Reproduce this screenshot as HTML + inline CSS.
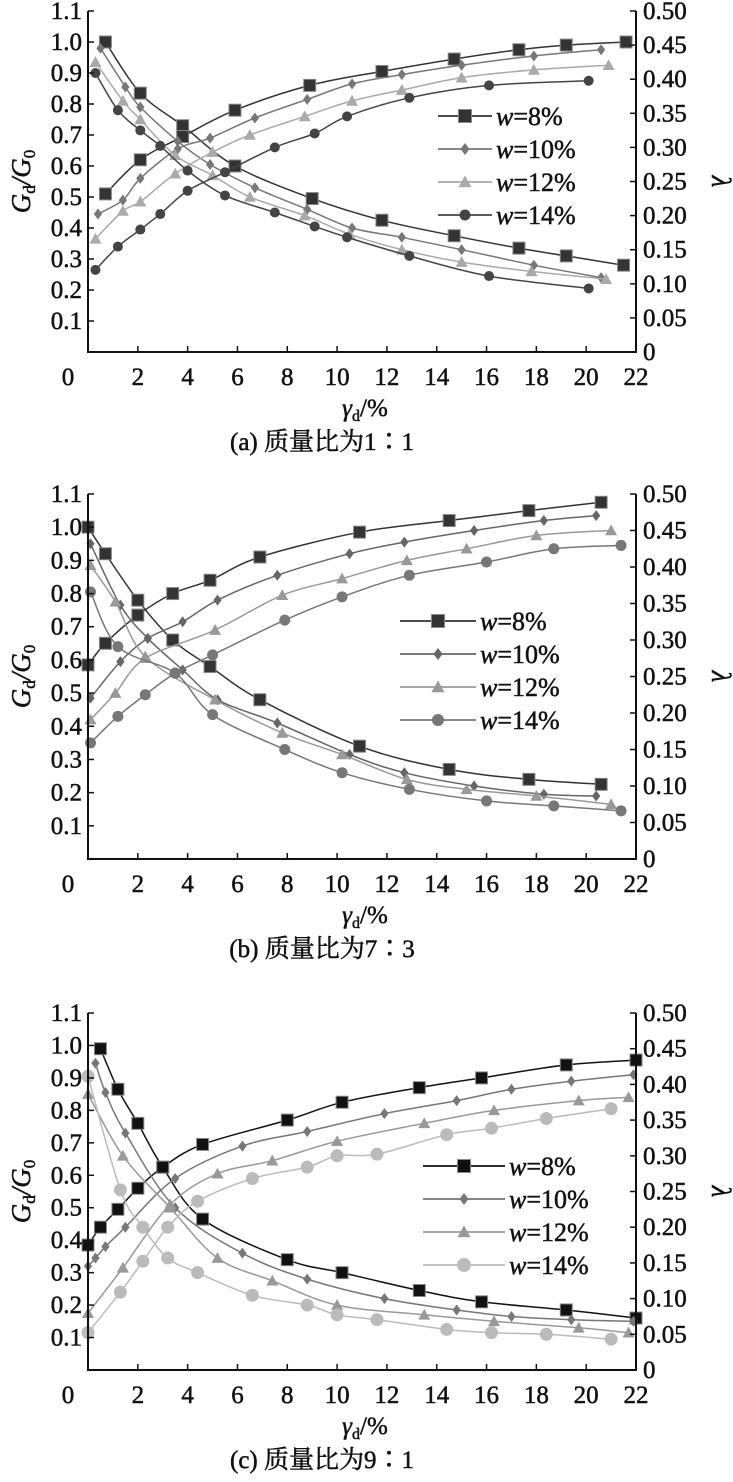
<!DOCTYPE html>
<html><head><meta charset="utf-8"><style>
html,body{margin:0;padding:0;background:#fff;}
svg{display:block;}
text{font-family:"Liberation Serif","Noto Serif CJK SC",serif;fill:#111;stroke:#111;stroke-width:0.5;}
</style></head><body>
<svg id="s" width="733" height="1482" xmlns="http://www.w3.org/2000/svg"></svg>
<script>
const S=document.getElementById('s');let h='';
const X0=88,X1=636,xs=g=>X0+g*(X1-X0)/22;
function curve(pts){if(pts.length<2)return '';let d='M'+pts[0][0]+','+pts[0][1];
for(let i=0;i<pts.length-1;i++){const p0=pts[i-1]||pts[i],p1=pts[i],p2=pts[i+1],p3=pts[i+2]||p2;
const c1=[p1[0]+(p2[0]-p0[0])/6,p1[1]+(p2[1]-p0[1])/6],c2=[p2[0]-(p3[0]-p1[0])/6,p2[1]-(p3[1]-p1[1])/6];
d+=` C${c1[0].toFixed(1)},${c1[1].toFixed(1)} ${c2[0].toFixed(1)},${c2[1].toFixed(1)} ${p2[0].toFixed(1)},${p2[1].toFixed(1)}`;}return d;}
function mk(t,x,y,c,sz){const r=sz/2;
if(t=='s')return `<rect x="${x-r}" y="${y-r}" width="${sz}" height="${sz}" fill="${c}" stroke="#888" stroke-width="1"/>`;
if(t=='d')return `<polygon points="${x},${y-r} ${x+r*0.75},${y} ${x},${y+r} ${x-r*0.75},${y}" fill="${c}"/>`;
if(t=='t')return `<polygon points="${x},${y-r} ${x+r},${y+r*0.8} ${x-r},${y+r*0.8}" fill="${c}"/>`;
return `<circle cx="${x}" cy="${y}" r="${r}" fill="${c}"/>`;}
function panel(P){const yT=P.top,yB=P.bot,ys=v=>yB-v*(yB-yT)/1.1;
P.ser.forEach(s=>{[s.dec,s.inc].forEach(arr=>{const pts=arr[0].map((g,i)=>[xs(g),ys(arr[1][i])]);
h+=`<path d="${curve(pts)}" fill="none" stroke="${s.c}" stroke-width="1.5"/>`;
pts.forEach(p=>h+=mk(s.m,p[0],p[1],s.c,s.sz));});});
h+=`<path d="M${X0},${yT} V${yB} H${X1} V${yT}" fill="none" stroke="#111" stroke-width="2"/>`;
for(let i=1;i<=11;i++){const y=ys(i/10);h+=`<line x1="${X0}" y1="${y}" x2="${X0+6}" y2="${y}" stroke="#111" stroke-width="1.5"/>`;
h+=`<text x="${X0-6}" y="${y+8}" font-size="25" text-anchor="end">${(i/10).toFixed(1)}</text>`;}
for(let k=1;k<=10;k++){const y=yB-k*(yB-yT)/10;h+=`<line x1="${X1}" y1="${y}" x2="${X1-6}" y2="${y}" stroke="#111" stroke-width="1.5"/>`;
h+=`<text x="${X1+7}" y="${y+8}" font-size="25">${(k*0.05).toFixed(2)}</text>`;}
h+=`<text x="${X1+7}" y="${yB+8}" font-size="25">0</text>`;
for(let g=2;g<=22;g+=2){const x=xs(g);h+=`<line x1="${x}" y1="${yB}" x2="${x}" y2="${yB-6}" stroke="#111" stroke-width="1.5"/>`;
h+=`<text x="${x}" y="${yB+33}" font-size="25" text-anchor="middle">${g}</text>`;}
h+=`<text x="68" y="${yB+33}" font-size="25" text-anchor="middle">0</text>`;
const ym=(yT+yB)/2;
h+=`<text transform="translate(30,${ym}) rotate(-90)" font-size="27" text-anchor="middle" font-style="italic">G<tspan font-size="17" dy="5" font-style="normal">d</tspan><tspan dy="-5">/G</tspan><tspan font-size="17" dy="5" font-style="normal">0</tspan></text>`;
h+=`<text transform="translate(712,${ym}) rotate(90)" font-size="27" text-anchor="middle" font-style="italic">λ</text>`;
h+=`<text x="365" y="${yB+64}" font-size="25" text-anchor="middle" font-style="italic">γ<tspan font-size="16" dy="5" font-style="normal">d</tspan><tspan dy="-5" font-style="normal">/%</tspan></text>`;
h+=`<text x="322" y="${yB+98}" font-size="25" text-anchor="middle">${P.cap}</text>`;
P.ser.forEach((s,i)=>{const y=P.leg.y+i*P.leg.dy;h+=`<line x1="${P.leg.x1}" y1="${y}" x2="${P.leg.x2}" y2="${y}" stroke="${s.c}" stroke-width="1.8"/>`;
h+=mk(s.m,(P.leg.x1+P.leg.x2)/2,y,s.c,s.sz+1);
h+=`<text x="${P.leg.x2+4}" y="${y+9}" font-size="26"><tspan font-style="italic">w</tspan>=${s.lab}</text>`;});}
panel({top:11,bot:352,cap:"(a) 质量比为1∶1",leg:{x1:438,x2:492,y:116,dy:33},ser:[
{c:"#333",m:"s",sz:12,lab:"8%",dec:[[0.7,2.1,3.8,5.9,9.0,11.8,14.7,17.3,19.2,21.5],[1.0,0.835,0.73,0.6,0.495,0.425,0.375,0.335,0.31,0.28]],inc:[[0.7,2.1,3.8,5.9,8.9,11.8,14.7,17.3,19.2,21.6],[0.51,0.62,0.695,0.78,0.86,0.905,0.945,0.975,0.99,1.0]]},
{c:"#777",m:"d",sz:11,lab:"10%",dec:[[0.5,1.5,2.1,3.6,4.9,6.7,8.8,10.6,12.6,15.0,17.9,20.6],[0.98,0.855,0.79,0.68,0.605,0.53,0.46,0.4,0.37,0.33,0.28,0.24]],inc:[[0.4,1.4,2.1,3.6,4.9,6.7,8.8,10.6,12.6,15.0,17.9,20.6],[0.445,0.49,0.56,0.655,0.69,0.755,0.815,0.865,0.895,0.925,0.955,0.975]]},
{c:"#aaa",m:"t",sz:12,lab:"12%",dec:[[0.3,1.4,2.1,3.5,5.0,6.5,8.7,10.5,12.6,15.0,17.8,20.8],[0.935,0.81,0.75,0.635,0.57,0.5,0.44,0.38,0.33,0.29,0.26,0.235]],inc:[[0.3,1.4,2.1,3.5,5.0,6.5,8.7,10.6,12.6,15.0,17.9,20.9],[0.365,0.455,0.485,0.575,0.645,0.7,0.76,0.81,0.845,0.885,0.91,0.925]]},
{c:"#444",m:"c",sz:10,lab:"14%",dec:[[0.3,1.2,2.1,2.9,4.0,5.5,7.5,9.1,10.4,12.9,16.1,20.1],[0.9,0.78,0.715,0.665,0.585,0.505,0.45,0.405,0.37,0.31,0.245,0.205]],inc:[[0.3,1.2,2.1,2.9,4.0,5.5,7.5,9.1,10.4,12.9,16.1,20.1],[0.265,0.34,0.395,0.445,0.52,0.58,0.66,0.705,0.76,0.82,0.86,0.875]]}]});
panel({top:494,bot:859,cap:"(b) 质量比为7∶3",leg:{x1:400,x2:476,y:621,dy:33},ser:[
{c:"#333",m:"s",sz:12,lab:"8%",dec:[[0,0.7,2,3.4,4.9,6.9,10.9,14.5,17.7,20.6],[1.0,0.92,0.78,0.66,0.58,0.48,0.34,0.27,0.24,0.225]],inc:[[0,0.7,2,3.4,4.9,6.9,10.9,14.5,17.7,20.6],[0.585,0.65,0.735,0.8,0.84,0.91,0.985,1.02,1.05,1.075]]},
{c:"#666",m:"d",sz:11,lab:"10%",dec:[[0.1,1.3,2.4,3.8,5.2,7.6,10.5,12.7,15.5,18.3,20.4],[0.95,0.765,0.665,0.57,0.48,0.41,0.315,0.26,0.22,0.195,0.19]],inc:[[0.1,1.3,2.4,3.8,5.2,7.6,10.5,12.7,15.5,18.3,20.4],[0.485,0.595,0.665,0.715,0.78,0.855,0.92,0.955,0.99,1.02,1.035]]},
{c:"#999",m:"t",sz:12,lab:"12%",dec:[[0.1,1.1,2.3,5.1,7.8,10.2,12.8,15.2,18,21],[0.885,0.775,0.61,0.48,0.38,0.315,0.24,0.21,0.19,0.165]],inc:[[0.1,1.1,2.3,5.1,7.8,10.2,12.8,15.2,18,21],[0.42,0.5,0.605,0.69,0.795,0.845,0.9,0.935,0.975,0.99]]},
{c:"#777",m:"c",sz:11,lab:"14%",dec:[[0.1,1.2,3.5,5,7.9,10.2,12.9,16,18.7,21.4],[0.805,0.64,0.56,0.435,0.33,0.26,0.21,0.175,0.16,0.145]],inc:[[0.1,1.2,2.3,3.5,5,7.9,10.2,12.9,16,18.7,21.4],[0.35,0.43,0.495,0.56,0.615,0.72,0.79,0.855,0.895,0.935,0.945]]}]});
panel({top:1013,bot:1370,cap:"(c) 质量比为9∶1",leg:{x1:423,x2:505,y:1166,dy:33},ser:[
{c:"#111",m:"s",sz:12,lab:"8%",dec:[[0.5,1.2,2,3,4.6,8,10.2,13.3,15.8,19.2,22],[0.99,0.865,0.76,0.625,0.465,0.34,0.3,0.245,0.21,0.185,0.16]],inc:[[0,0.5,1.2,2,3,4.6,8,10.2,13.3,15.8,19.2,22],[0.385,0.44,0.495,0.56,0.625,0.695,0.77,0.825,0.87,0.9,0.94,0.955]]},
{c:"#777",m:"d",sz:11,lab:"10%",dec:[[0.3,0.7,1.5,3.5,6.2,8.8,11.9,14.8,17,19.4,21.9],[0.945,0.855,0.73,0.5,0.36,0.28,0.22,0.185,0.165,0.155,0.15]],inc:[[0,0.3,0.7,1.5,3.5,6.2,8.8,11.9,14.8,17,19.4,21.9],[0.32,0.345,0.38,0.44,0.59,0.69,0.735,0.79,0.83,0.865,0.89,0.91]]},
{c:"#999",m:"t",sz:12,lab:"12%",dec:[[0,1.4,3.3,5.2,7.4,10,13.5,16.3,19.7,21.7],[0.85,0.66,0.5,0.345,0.275,0.2,0.17,0.15,0.13,0.115]],inc:[[0,1.4,3.3,5.2,7.4,10,13.5,16.3,19.7,21.7],[0.175,0.315,0.51,0.605,0.645,0.705,0.76,0.8,0.83,0.84]]},
{c:"#bbb",m:"c",sz:13,lab:"14%",dec:[[0,1.3,2.2,3.2,4.4,6.6,8.8,10,11.6,14.4,16.2,18.4,21],[0.905,0.555,0.44,0.345,0.3,0.23,0.2,0.17,0.155,0.125,0.115,0.11,0.095]],inc:[[0,1.3,2.2,3.2,4.4,6.6,8.8,10,11.6,14.4,16.2,18.4,21],[0.115,0.24,0.335,0.44,0.52,0.59,0.625,0.66,0.665,0.725,0.745,0.775,0.805]]}]});
S.innerHTML=h;
</script>
</body></html>
